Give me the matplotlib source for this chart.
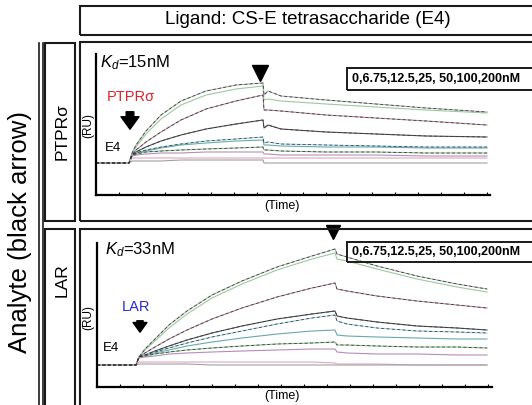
import matplotlib
matplotlib.use("Agg")
import matplotlib.pyplot as plt
from matplotlib.patches import Rectangle
from matplotlib.lines import Line2D

plt.rcParams['font.family'] = ['Liberation Sans', 'DejaVu Sans']
plt.rcParams['mathtext.fontset'] = 'custom'
plt.rcParams['mathtext.it'] = 'Liberation Sans:italic'
plt.rcParams['mathtext.rm'] = 'Liberation Sans'

W, H = 532, 405

# sensorgram time points (arbitrary units) and responses (RU)
ptpr_time = [0, 33, 36, 40, 50, 65, 85, 110, 140, 167,
             168, 172, 185, 230, 280, 330, 391]
ptpr_resp = [
    [32, 32, 42, 50, 64, 80, 94, 104, 110, 112, 100, 104, 99, 95, 91, 87, 83],
    [32, 32, 41, 48, 61, 76, 90, 100, 106, 109, 95, 96, 94, 91, 88, 85, 82],
    [32, 32, 40, 45, 53, 63, 75, 86, 94, 100, 85, 85, 84, 80, 77, 74, 70],
    [32, 32, 40, 43, 48, 54, 60, 66, 71, 75, 67, 70, 66, 63, 61, 59, 58],
    [32, 32, 40, 42, 45, 48, 51, 54, 56, 58, 52, 53, 51, 50, 49, 48, 48],
    [32, 32, 40, 42, 44, 47, 50, 52, 54, 55, 50, 50, 49, 48, 48, 47, 47],
    [32, 32, 39, 41, 43, 44, 45, 46, 47, 48, 45, 45, 44, 43, 43, 42, 42],
    [32, 32, 39, 40, 41, 42, 42, 43, 43, 43, 41, 41, 40, 40, 40, 39, 39],
    [32, 32, 37, 37, 37, 37, 37, 37, 37, 37, 37, 37, 37, 37, 37, 37, 37],
    [32, 32, 34, 34, 34, 34, 35, 35, 35, 35, 32, 32, 32, 32, 32, 32, 32],
]

lar_time = [0, 39, 42, 48, 58, 72, 90, 115, 145, 180, 215, 238,
            240, 250, 280, 320, 360, 390]
lar_resp = [
    [22, 22, 30, 38, 48, 62, 76, 92, 106, 120, 131, 138, 133, 130, 121, 111, 103, 98],
    [22, 22, 30, 37, 46, 59, 73, 89, 103, 117, 128, 134, 128, 126, 118, 108, 100, 95],
    [22, 22, 30, 34, 40, 48, 57, 68, 79, 90, 99, 104, 98, 96, 91, 86, 82, 79],
    [22, 22, 30, 32, 36, 41, 47, 54, 61, 68, 73, 76, 71, 69, 65, 61, 59, 57],
    [22, 22, 30, 32, 35, 39, 44, 50, 56, 63, 69, 72, 66, 63, 59, 56, 55, 54],
    [22, 22, 30, 31, 34, 37, 41, 45, 49, 53, 56, 57, 52, 51, 50, 49, 48, 48],
    [22, 22, 30, 31, 33, 35, 37, 39, 41, 43, 44, 45, 42, 42, 41, 40, 40, 39],
    [22, 22, 29, 30, 31, 33, 34, 35, 36, 37, 38, 38, 35, 34, 33, 33, 32, 32],
    [22, 22, 25, 25, 25, 25, 25, 25, 25, 25, 25, 24, 23, 23, 23, 22, 22, 22],
    [22, 22, 23, 23, 23, 23, 23, 22, 22, 22, 22, 22, 22, 22, 22, 22, 22, 22],
]

curve_colors = ['#b0b0b0', '#9cc89c', '#b88a98', '#505050', '#9cd6e8',
                '#6aa8ac', '#8cc48c', '#b48cbc', '#dca8bc', '#a0a0a0']
fit_curves = [0, 2, 3, 4, 6]

conc_text = '0,6.75,12.5,25, 50,100,200nM'

fig = plt.figure(figsize=(W / 100, H / 100), dpi=100)


def px_rect(x0, y0, x1, y1):
    return [x0 / W, 1 - y1 / H, (x1 - x0) / W, (y1 - y0) / H]


def box(x0, y0, x1, y1, lw=1.5):
    l, b, w, h = px_rect(x0, y0, x1, y1)
    fig.add_artist(Rectangle((l, b), w, h, transform=fig.transFigure,
                             fill=False, lw=lw, ec='#1a1a1a'))


def ftext(x, y, s, **kw):
    fig.text(x / W, 1 - y / H, s, **kw)


# frames
box(80, 6, 545, 35)
box(80, 42, 545, 221)
box(80, 229, 545, 420)
box(45, 43, 75, 221)
box(45, 229, 75, 420)
for xl in (39, 42.5):
    fig.add_artist(Line2D([xl / W, xl / W], [1 - 43 / H, 0],
                          transform=fig.transFigure, lw=1.2, color='#1a1a1a'))

ftext(308, 20, 'Ligand: CS-E tetrasaccharide (E4)', ha='center', va='center',
      fontsize=13.5)
ftext(20, 232, 'Analyte (black arrow)', ha='center', va='center',
      rotation=90, fontsize=18.5)
ftext(62, 132, 'PTPR\u03c3', ha='center', va='center', rotation=90, fontsize=12.5)
ftext(62, 280, 'LAR', ha='center', va='center', rotation=90, fontsize=12.5)


def panel(rect, times, resp, ymax, kd, name, name_color, ann):
    ax = fig.add_axes(px_rect(*rect))
    for i, r in enumerate(resp):
        ax.plot(times, r, color=curve_colors[i], lw=0.8)
    for i in fit_curves:
        ax.plot(times, resp[i], color='#383838', lw=0.55, ls=(0, (4, 3)))
    ax.set_xlim(0, rect[2] - rect[0])
    ax.set_ylim(0, ymax)
    for s in ('top', 'right'):
        ax.spines[s].set_visible(False)
    for s in ('left', 'bottom'):
        ax.spines[s].set_linewidth(1.6)
    ax.set_xticks(range(0, rect[2] - rect[0], 23))
    ax.tick_params(axis='x', direction='in', length=2.5, width=0.8,
                   labelbottom=False)
    ax.set_yticks([])
    ax.text(ann['kd'][0], ann['kd'][1], kd, fontsize=12, va='center')
    ax.text(ann['name'][0], ann['name'][1], name, fontsize=10.5,
            color=name_color, va='center')
    ax.text(ann['e4'][0], ann['e4'][1], 'E4', fontsize=9.5, va='center')
    ax.annotate('', xy=ann['arrow'][1], xytext=ann['arrow'][0],
                arrowprops=dict(arrowstyle=ann['astyle'], color='black'),
                annotation_clip=False)
    ax.plot(*ann['tri'], marker='v', ms=ann['tri_ms'], color='black',
            clip_on=False)
    return ax


panel((96, 54, 490, 195), ptpr_time, ptpr_resp, 141,
      '$K_d$=15nM', 'PTPR\u03c3', '#e3202a',
      dict(kd=(4, 132), name=(11, 98), e4=(9, 47),
           arrow=((34, 86), (34, 63)),
           astyle='simple,head_width=1.3,head_length=0.9,tail_width=0.55',
           tri=(164, 122), tri_ms=11))
panel((97, 243, 492, 387), lar_time, lar_resp, 144,
      '$K_d$=33nM', 'LAR', '#2a2ad0',
      dict(kd=(8, 137), name=(25, 80), e4=(6, 39),
           arrow=((43, 69), (43, 52)),
           astyle='simple,head_width=1.0,head_length=0.7,tail_width=0.45',
           tri=(236, 155), tri_ms=10))

# concentration boxes
for y0, y1 in ((68, 90), (242, 262)):
    box(347, y0, 545, y1, lw=1.4)
    ftext(352, (y0 + y1) / 2, conc_text, ha='left', va='center',
          fontsize=9, fontweight='bold')

# axis captions
for yc in (125, 318):
    ftext(88, yc, '(RU)', ha='center', va='center', rotation=90, fontsize=8.5)
for yc in (206, 396):
    ftext(282, yc, '(Time)', ha='center', va='center', fontsize=9)

fig.savefig('out.png', dpi=100)
